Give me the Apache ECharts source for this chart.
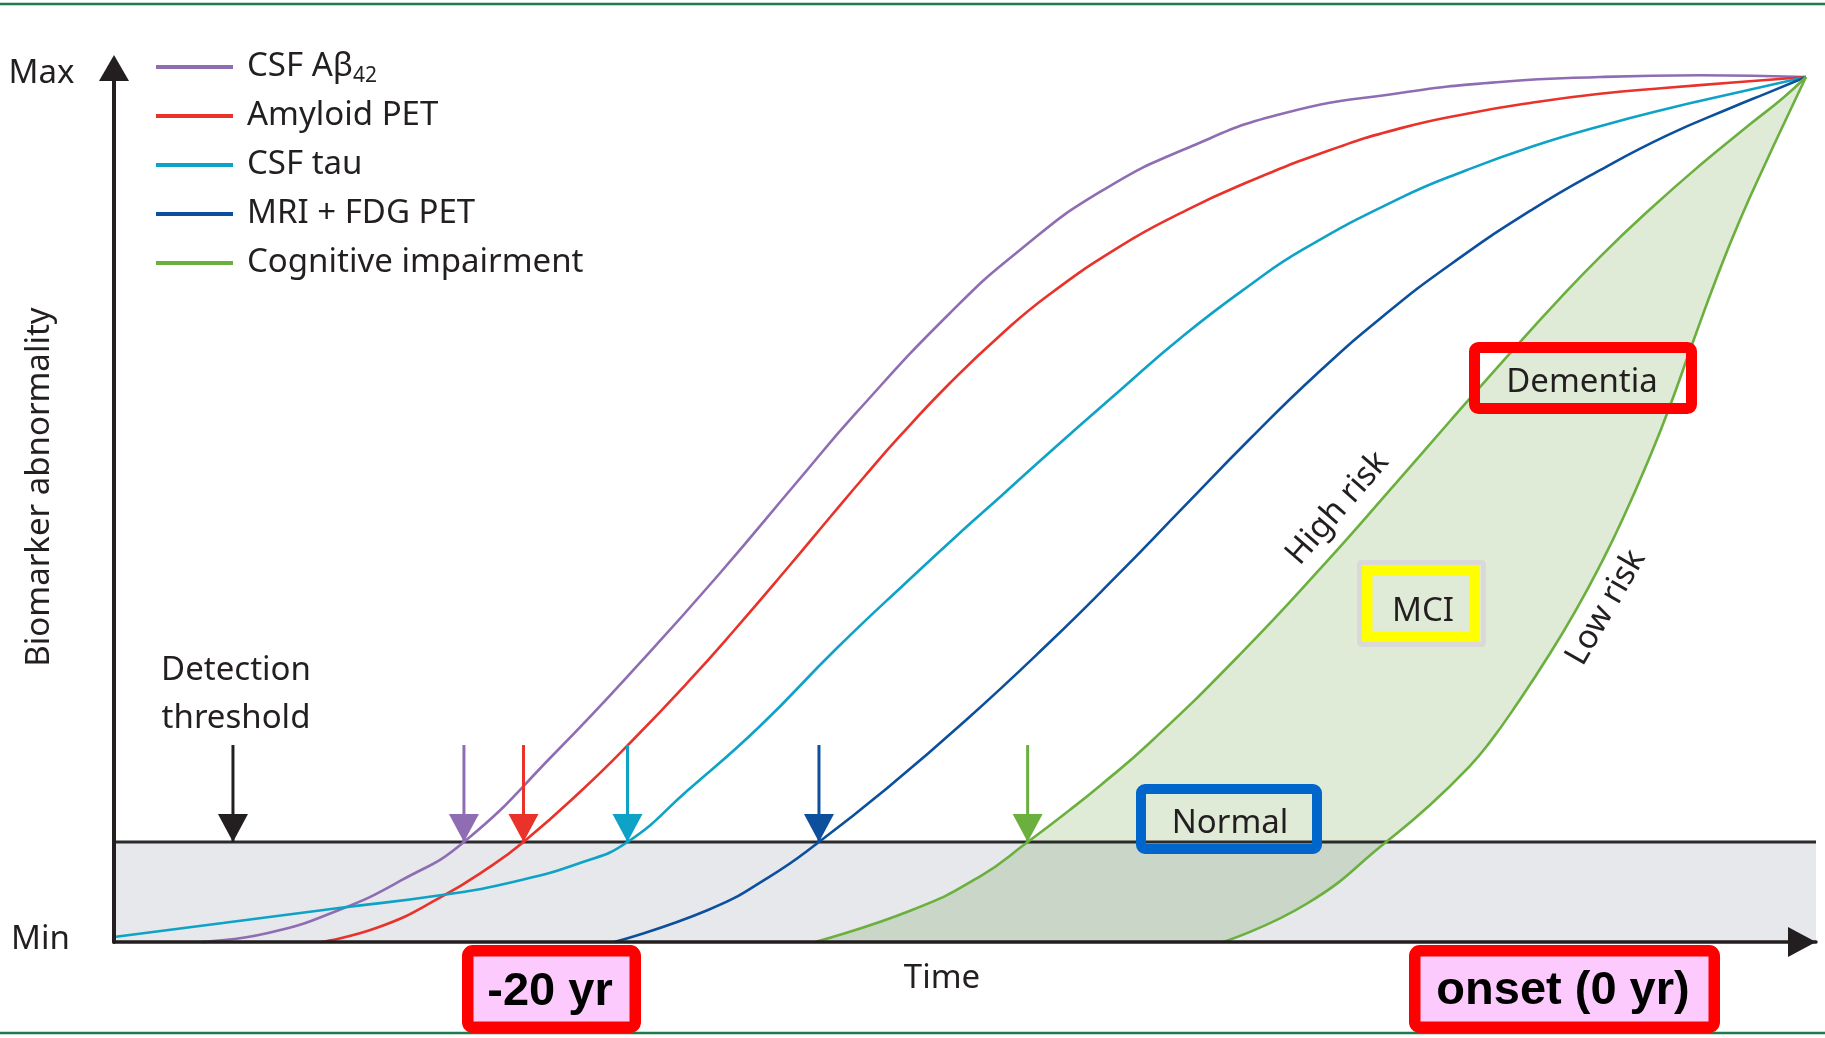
<!DOCTYPE html>
<html>
<head>
<meta charset="utf-8">
<script src="https://cdn.jsdelivr.net/npm/echarts@6.0.0/dist/echarts.min.js"></script>
<style>
html,body{margin:0;padding:0;background:#ffffff;}
#main{width:1825px;height:1038px;}
</style>
</head>
<body>
<div id="main"></div>
<script>
// ---------------- data (time: 0..100, abnormality: 0 = Min .. 100 = Max) ----------------
const timeRange = [0, 100];
const abnormalityRange = [0, 100];
const detectionThreshold = 11.56;
const arrowStartLevel = 22.77;

const legendNames = ['CSF Aβ42', 'Amyloid PET', 'CSF tau', 'MRI + FDG PET', 'Cognitive impairment'];

const csfAbeta42 = [[5.11,0],[9.05,1.04],[13.22,3.70],[16.92,7.17],[20.56,11.56],[25.91,21.85],[31.37,33.29],[35.61,42.66],[40.13,53.18],[43.60,61.16],[49.12,72.72],[53.23,80.0],[57.93,86.71],[63.34,92.02],[68.80,95.84],[75.56,98.15],[81.43,99.42],[87.31,100.0],[93.18,100.2],[99.41,100]];
const amyloidPET = [[12.16,0],[15.57,1.73],[19.15,5.12],[22.15,8.77],[24.06,11.56],[27.44,17.46],[30.43,23.24],[33.73,30.06],[36.43,36.01],[39.72,43.58],[42.13,49.25],[44.07,53.76],[46.18,58.50],[49.12,64.62],[52.06,70.12],[54.99,74.91],[59.11,80.42],[62.63,84.23],[66.10,87.43],[71.50,91.58],[75.56,94.06],[79.49,95.76],[83.37,97.05],[87.31,98.06],[91.25,98.75],[95.12,99.36],[99.41,100]];
const csfTau = [[0,0.58],[6.40,2.20],[13.22,3.93],[19.27,5.43],[23.44,6.94],[27.38,9.13],[30.17,11.56],[33.73,17.57],[37.90,24.86],[42.42,33.87],[46.89,42.20],[49.88,47.63],[52.06,51.45],[54.99,56.65],[58.93,63.47],[62.81,70.06],[66.75,75.95],[69.86,80.06],[75.56,86.0],[79.49,89.25],[83.37,92.0],[87.31,94.32],[91.25,96.34],[95.12,98.09],[99.41,100]];
const mriFdgPET = [[29.38,0],[34.90,3.70],[38.48,7.51],[41.42,11.56],[45.42,17.78],[50.00,25.54],[54.99,34.68],[58.93,42.35],[62.81,50.21],[66.75,58.18],[70.68,65.70],[74.56,72.34],[78.50,78.30],[83.37,84.73],[87.31,89.23],[91.25,93.25],[95.12,96.53],[97.12,98.14],[99.41,100]];
const cognitiveHighRisk = [[41.19,0],[46.89,3.70],[50.82,7.51],[53.68,11.56],[56.17,15.29],[57.93,18.07],[60.81,22.94],[66.16,33.25],[70.98,43.39],[75.32,53.05],[78.50,60.23],[82.20,68.46],[84.67,73.80],[87.31,79.21],[90.25,84.71],[93.18,89.79],[96.12,94.53],[98.06,97.58],[99.41,100]];
const cognitiveLowRisk = [[65.16,0],[70.15,4.51],[74.74,11.56],[77.32,15.84],[79.67,20.37],[80.85,23.14],[82.43,27.51],[84.37,33.35],[85.96,38.60],[87.31,43.53],[88.66,48.98],[90.25,56.16],[91.36,61.65],[92.77,69.36],[94.18,76.88],[95.53,83.47],[97.12,90.40],[98.30,95.38],[99.41,100]];

const thresholdArrowX = 6.99;
const detectionArrowX = [20.56, 24.06, 30.17, 41.42, 53.68];

// ---------------- styles ----------------
const INK = '#231f20';
const COLORS = ['#8f6db3', '#e8322a', '#0ea2c6', '#0b4f9d', '#6bb03e'];
const FONT = '"Noto Sans", "Open Sans", sans-serif';
const BOLD = '"Liberation Sans", Arial, sans-serif';
const SMOOTH = 0.5;

const chart = echarts.init(document.getElementById('main'), null, {renderer: 'canvas'});

function curve(name, data, color) {
  return {
    type: 'line', name: name, data: data,
    smooth: SMOOTH,
    symbol: 'none', showSymbol: false, clip: false, silent: true,
    z: 4,
    lineStyle: {color: color, width: 2.6},
    itemStyle: {color: color},
    emphasis: {disabled: true}
  };
}
function area(name, data, fill, z) {
  return {
    type: 'line', name: name, data: data,
    smooth: SMOOTH,
    symbol: 'none', showSymbol: false, clip: false, silent: true,
    z: z,
    lineStyle: {width: 0, opacity: 0},
    areaStyle: {color: fill, opacity: 1, origin: 'start'},
    emphasis: {disabled: true}
  };
}
function arrow(x, color) {
  return {
    type: 'line',
    data: [
      {value: [x, arrowStartLevel], symbol: 'none'},
      {value: [x, detectionThreshold], symbol: 'triangle', symbolSize: [30, 28], symbolRotate: 180, symbolOffset: [0, -14]}
    ],
    symbol: 'triangle', showSymbol: true, showAllSymbol: true, clip: false, silent: true,
    z: 6,
    lineStyle: {color: color, width: 3},
    itemStyle: {color: color, borderWidth: 0},
    emphasis: {disabled: true}
  };
}

const series = [
  area('highRiskArea', cognitiveHighRisk, '#dfebd6', 1),
  area('lowRiskArea', cognitiveLowRisk, '#ffffff', 2),
  {
    type: 'line', name: 'Detection threshold',
    data: [[timeRange[0], detectionThreshold], [timeRange[1], detectionThreshold]],
    symbol: 'none', showSymbol: false, silent: true, z: 3,
    lineStyle: {color: '#2b2b2b', width: 2.8},
    areaStyle: {color: 'rgba(60,80,100,0.13)', opacity: 1, origin: 'start'},
    emphasis: {disabled: true}
  },
  curve(legendNames[0], csfAbeta42, COLORS[0]),
  curve(legendNames[1], amyloidPET, COLORS[1]),
  curve(legendNames[2], csfTau, COLORS[2]),
  curve(legendNames[3], mriFdgPET, COLORS[3]),
  curve(legendNames[4], cognitiveHighRisk, COLORS[4]),
  curve('Cognitive impairment (low risk)', cognitiveLowRisk, COLORS[4]),
  arrow(thresholdArrowX, INK)
].concat(detectionArrowX.map(function (x, i) { return arrow(x, COLORS[i]); }));

function txt(text, x, y, opts) {
  opts = opts || {};
  return {
    type: 'text', x: x, y: y, rotation: opts.rotation || 0, z: 60, silent: true,
    style: {
      text: text,
      fontFamily: opts.family || FONT,
      fontSize: opts.size || 33,
      fontWeight: opts.weight || 'normal',
      lineHeight: opts.lineHeight,
      fill: opts.color || INK,
      align: 'center',
      verticalAlign: 'middle'
    }
  };
}
function box(x0, y0, x1, y1, lw, stroke, fill, r) {
  return {
    type: 'rect', z: 55, silent: true,
    shape: {x: x0 + lw / 2, y: y0 + lw / 2, width: x1 - x0 - lw, height: y1 - y0 - lw, r: r},
    style: {fill: fill || 'none', stroke: stroke, lineWidth: lw}
  };
}

const option = {
  backgroundColor: '#ffffff',
  animation: false,
  textStyle: {fontFamily: FONT},
  grid: {left: 114, right: 9, top: 77, bottom: 96, containLabel: false, outerBoundsMode: 'none'},
  xAxis: {
    type: 'value', min: timeRange[0], max: timeRange[1], z: 10,
    axisLine: {show: true, onZero: false, lineStyle: {color: INK, width: 3.5},
      symbol: ['none', 'triangle'], symbolSize: [30, 28], symbolOffset: [0, -14]},
    axisTick: {show: false}, axisLabel: {show: false}, splitLine: {show: false}
  },
  yAxis: {
    type: 'value', min: abnormalityRange[0], max: abnormalityRange[1], z: 10,
    axisLine: {show: true, onZero: false, lineStyle: {color: INK, width: 4},
      symbol: ['none', 'triangle'], symbolSize: [30, 26], symbolOffset: [0, 9]},
    axisTick: {show: false}, axisLabel: {show: false}, splitLine: {show: false}
  },
  legend: {
    data: legendNames,
    orient: 'vertical', left: 156, top: 47, padding: 0,
    itemWidth: 77, itemHeight: 4, itemGap: 9, icon: 'rect',
    selectedMode: false,
    formatter: function (name) {
      if (name === 'CSF Aβ42') return '{t|CSF Aβ}{s|42}';
      return '{t|' + name + '}';
    },
    textStyle: {
      color: INK, fontFamily: FONT, fontSize: 33, lineHeight: 40, padding: [0, 0, 0, 9],
      rich: {
        t: {color: INK, fontFamily: FONT, fontSize: 33, lineHeight: 40},
        s: {color: INK, fontFamily: FONT, fontSize: 21, lineHeight: 14, verticalAlign: 'bottom'}
      }
    }
  },
  series: series,
  graphic: [
    {type: 'line', z: 50, silent: true, shape: {x1: 0, y1: 4, x2: 1825, y2: 4}, style: {stroke: '#1f7a4d', lineWidth: 2.5}},
    {type: 'line', z: 50, silent: true, shape: {x1: 0, y1: 1033, x2: 1825, y2: 1033}, style: {stroke: '#1f7a4d', lineWidth: 2.5}},
    txt('Max', 41.5, 73.5),
    txt('Min', 40.5, 939.5),
    txt('Time', 942, 978.5),
    txt('Biomarker abnormality', 40, 487, {rotation: Math.PI / 2}),
    txt('Detection\nthreshold', 236, 694.5, {lineHeight: 48}),
    txt('High risk', 1337.6, 508.3, {rotation: 49 * Math.PI / 180}),
    txt('Low risk', 1606, 607.7, {rotation: 60 * Math.PI / 180}),
    box(1136, 784, 1322, 854, 10, '#0066cc', null, 4),
    txt('Normal', 1230, 823.5),
    box(1357, 560, 1486, 647, 5, '#d9d9d9', null, 2),
    box(1362, 565, 1480, 642, 10.5, '#ffff00', null, 0),
    txt('MCI', 1423, 611.5),
    box(1469, 342, 1697, 414, 11, '#ff0000', null, 4),
    txt('Dementia', 1582, 382.5),
    box(462, 945, 641, 1033, 11.5, '#ff0000', '#fccafc', 5),
    txt('-20 yr', 550, 992, {family: BOLD, size: 47, weight: 'bold', color: '#000000'}),
    box(1409, 945, 1720, 1033, 11.5, '#ff0000', '#fccafc', 5),
    txt('onset (0 yr)', 1563, 991, {family: BOLD, size: 47, weight: 'bold', color: '#000000'})
  ]
};

chart.setOption(option);
</script>
</body>
</html>
